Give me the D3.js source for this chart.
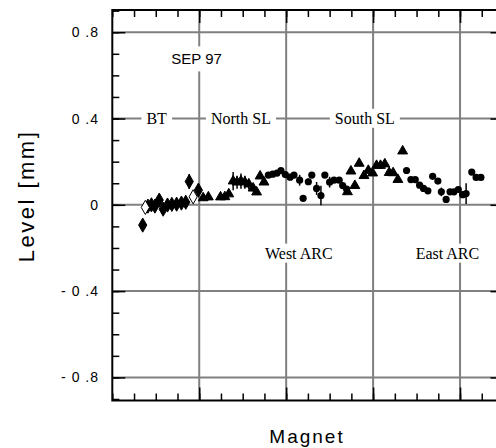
<!DOCTYPE html>
<html>
<head>
<meta charset="utf-8">
<script src="https://cdn.jsdelivr.net/npm/d3@7"></script>
<style>
  body { margin: 0; background: #fff; }
  svg { display: block; }
  .axis path, .axis line { stroke: #000; }
  .grid line { stroke: #808080; stroke-width: 2; }
</style>
</head>
<body>
<div id="chart"></div>
<script>
// data (magnet index, level in mm)
var btMagnet = [7.0, 8.2, 9.0, 9.8, 10.8, 11.7, 12.7, 13.7, 14.8, 15.9, 16.9, 17.7, 19.8];
var btLevel  = [-0.094, -0.006, 0.0, -0.006, 0.022, -0.02, -0.001, 0.002, 0.003, 0.008, 0.012, 0.108, 0.068];
var btErr    = [0, 0, 0.01, 0, 0.012, 0, 0.012, 0.012, 0.012, 0.012, 0.015, 0.035, 0];

var openMagnet = [7.6, 18.6];
var openLevel  = [-0.012, 0.037];

var northMagnet = [20.9, 22.1, 24.9, 25.9, 26.8, 27.8, 28.7, 29.6, 30.5, 31.4, 32.4, 33.2, 34.0, 34.9];
var northLevel  = [0.032, 0.036, 0.036, 0.037, 0.05, 0.11, 0.105, 0.11, 0.105, 0.096, 0.077, 0.059, 0.133, 0.105];
var northErr    = [0, 0, 0.01, 0.01, 0.01, 0.042, 0.03, 0.035, 0.03, 0.025, 0.015, 0, 0, 0];

var westMagnet = [35.9, 36.9, 37.9, 38.8, 39.8, 40.9, 41.8, 43.1, 43.9, 45.1, 45.9, 47.0, 48.0, 48.9, 50.0, 51.0, 52.2, 53.0, 53.9];
var westLevel  = [0.138, 0.142, 0.147, 0.159, 0.14, 0.128, 0.138, 0.114, 0.03, 0.107, 0.138, 0.076, 0.043, 0.138, 0.105, 0.114, 0.114, 0.089, 0.073];
var westErr    = [0, 0, 0, 0, 0, 0, 0, 0.025, 0, 0.015, 0, 0.03, 0.045, 0, 0.025, 0, 0, 0, 0];

var southMagnet = [54.1, 54.9, 55.8, 56.8, 57.9, 58.9, 59.9, 60.8, 61.7, 62.7, 63.7, 64.6, 65.7, 66.8];
var southLevel  = [0.06, 0.156, 0.089, 0.192, 0.135, 0.159, 0.147, 0.182, 0.182, 0.189, 0.149, 0.148, 0.117, 0.249];

var eastMagnet = [67.7, 68.7, 69.7, 70.7, 71.6, 72.6, 73.7, 74.9, 75.7, 76.8, 77.7, 78.6, 79.6, 80.6, 81.4, 82.7, 83.7, 84.8];
var eastLevel  = [0.159, 0.117, 0.117, 0.091, 0.076, 0.065, 0.132, 0.11, 0.06, 0.025, 0.06, 0.06, 0.071, 0.047, 0.052, 0.152, 0.127, 0.127];
var eastErr    = [0, 0, 0, 0, 0, 0, 0, 0, 0.02, 0, 0, 0, 0, 0.015, 0.048, 0, 0, 0];

var yTicks = [-0.8, -0.4, 0, 0.4, 0.8];
var yTickLabels = ["- 0 .8", "- 0 .4", "0", "0 .4", "0 .8"];
var xGrid = [20, 40, 60, 80];

// section labels
var sectionNames  = ["BT", "North SL", "South SL", "West ARC", "East ARC"];
var sectionMagnet = [10.2, 29.6, 58.1, 42.9, 77.1];
var sectionLevel  = [0.4, 0.4, 0.4, -0.225, -0.225];

// set the dimensions
var width = 496, height = 448;
var margin = {left: 112.3, right: 503.5, top: 10, bottom: 400.5};

var xScale = d3.scaleLinear().domain([0, 90]).range([margin.left, margin.right]);
var yScale = d3.scaleLinear().domain([-0.907, 0.903]).range([margin.bottom, margin.top]);

var svg = d3.select("#chart").append("svg")
    .attr("width", width)
    .attr("height", height);

function zip(xs, ys, es) {
  return xs.map(function(d, i) { return {x: d, y: ys[i], e: es ? es[i] : 0}; });
}

// grid lines
var grid = svg.append("g").attr("class", "grid");
grid.selectAll(".gy").data(yTicks).enter().append("line")
    .attr("x1", margin.left).attr("x2", margin.right)
    .attr("y1", function(d) { return yScale(d); })
    .attr("y2", function(d) { return yScale(d); });
grid.selectAll(".gx").data(xGrid).enter().append("line")
    .attr("y1", margin.top).attr("y2", margin.bottom)
    .attr("x1", function(d) { return xScale(d); })
    .attr("x2", function(d) { return xScale(d); });

// minor / major ticks, all pointing inward
var minorY = d3.range(-9, 10).map(function(d) { return d / 10; });
var minorX = d3.range(0, 91, 5);

function ticks(axis, tr, vals, size) {
  svg.append("g")
      .attr("class", "axis")
      .attr("transform", tr)
      .call(axis.tickValues(vals).tickSize(size).tickSizeOuter(0).tickFormat(""))
      .call(function(g) { g.select(".domain").remove(); })
      .selectAll("line").attr("stroke-width", 1.5);
}
ticks(d3.axisLeft(yScale), "translate(" + margin.left + ",0)", minorY, -7);
ticks(d3.axisLeft(yScale), "translate(" + margin.left + ",0)", yTicks, -13);
ticks(d3.axisRight(yScale), "translate(" + margin.right + ",0)", minorY, -7);
ticks(d3.axisRight(yScale), "translate(" + margin.right + ",0)", yTicks, -13);
ticks(d3.axisBottom(xScale), "translate(0," + margin.bottom + ")", minorX, -7);
ticks(d3.axisBottom(xScale), "translate(0," + margin.bottom + ")", xGrid, -13);
ticks(d3.axisTop(xScale), "translate(0," + margin.top + ")", minorX, -7);
ticks(d3.axisTop(xScale), "translate(0," + margin.top + ")", xGrid, -13);

// frame
svg.append("rect")
    .attr("x", margin.left).attr("y", margin.top)
    .attr("width", margin.right - margin.left).attr("height", margin.bottom - margin.top)
    .attr("fill", "none").attr("stroke", "#000").attr("stroke-width", 2);

// y tick labels
svg.append("g").selectAll("text").data(yTicks).enter().append("text")
    .attr("x", 99)
    .attr("y", function(d) { return yScale(d); })
    .attr("dy", "0.36em")
    .attr("text-anchor", "end")
    .attr("xml:space", "preserve")
    .style("font-family", "Arial, 'Liberation Sans', sans-serif")
    .style("font-size", "14px")
    .style("letter-spacing", "1px")
    .text(function(d, i) { return yTickLabels[i]; });

// section labels with white boxes
var labels = svg.append("g");
var boxes = labels.append("g");
sectionNames.forEach(function(name, i) {
  var t = labels.append("text")
      .attr("x", xScale(sectionMagnet[i]))
      .attr("y", yScale(sectionLevel[i]))
      .attr("dy", "0.33em")
      .attr("text-anchor", "middle")
      .style("font-family", "'Liberation Serif', 'Times New Roman', serif")
      .style("font-size", "16px")
      .text(name);
  var b = t.node().getBBox();
  boxes.append("rect")
      .attr("x", b.x - 5).attr("y", b.y - 1)
      .attr("width", b.width + 10).attr("height", b.height + 2)
      .attr("fill", "#fff");
});

// SEP 97
var sepG = svg.append("g");
var sepBox = sepG.append("rect").attr("fill", "#fff");
var sep = sepG.append("text")
    .attr("x", xScale(19.4))
    .attr("y", yScale(0.651))
    .attr("text-anchor", "middle")
    .style("font-family", "Arial, 'Liberation Sans', sans-serif")
    .style("font-size", "15px")
    .text("SEP 97");
var sb = sep.node().getBBox();
sepBox.attr("x", sb.x - 2).attr("y", sb.y - 4)
    .attr("width", sb.width + 4).attr("height", sb.height + 8);

// error bars
var errData = zip(btMagnet, btLevel, btErr)
    .concat(zip(northMagnet, northLevel, northErr))
    .concat(zip(westMagnet, westLevel, westErr))
    .concat(zip(eastMagnet, eastLevel, eastErr))
    .filter(function(d) { return d.e > 0; });
svg.append("g").selectAll("line").data(errData).enter().append("line")
    .attr("x1", function(d) { return xScale(d.x); })
    .attr("x2", function(d) { return xScale(d.x); })
    .attr("y1", function(d) { return yScale(d.y - d.e); })
    .attr("y2", function(d) { return yScale(d.y + d.e); })
    .attr("stroke", "#000").attr("stroke-width", 1.5);

// markers
var diamond = d3.symbol().type(d3.symbolDiamond).size(58);
var triangle = d3.symbol().type(d3.symbolTriangle).size(42);

function plot(data, sym, fill) {
  svg.append("g").selectAll("path").data(data).enter().append("path")
      .attr("transform", function(d) { return "translate(" + xScale(d.x) + "," + yScale(d.y) + ")"; })
      .attr("d", sym)
      .attr("fill", fill)
      .attr("stroke", "#000")
      .attr("stroke-width", 1);
}
plot(zip(btMagnet, btLevel), diamond, "#000");
plot(zip(openMagnet, openLevel), diamond, "#fff");
plot(zip(northMagnet, northLevel), triangle, "#000");
plot(zip(southMagnet, southLevel), triangle, "#000");

svg.append("g").selectAll("circle")
    .data(zip(westMagnet, westLevel).concat(zip(eastMagnet, eastLevel)))
  .enter().append("circle")
    .attr("r", 3.6)
    .attr("cx", function(d) { return xScale(d.x); })
    .attr("cy", function(d) { return yScale(d.y); })
    .attr("fill", "#000");

// axis titles
svg.append("text")
    .attr("x", 307).attr("y", 443)
    .attr("text-anchor", "middle")
    .style("font-family", "Arial, 'Liberation Sans', sans-serif")
    .style("font-size", "19px")
    .style("letter-spacing", "2px")
    .text("Magnet");

svg.append("text")
    .attr("transform", "translate(34,196) rotate(-90)")
    .attr("text-anchor", "middle")
    .style("font-family", "Arial, 'Liberation Sans', sans-serif")
    .style("font-size", "22px")
    .style("letter-spacing", "2.5px")
    .text("Level [mm]");
</script>
</body>
</html>
